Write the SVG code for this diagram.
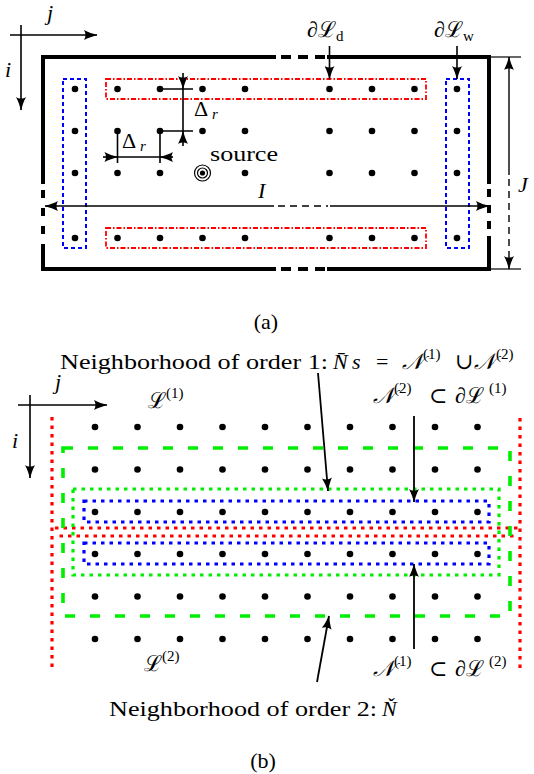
<svg xmlns="http://www.w3.org/2000/svg" width="534" height="774" viewBox="0 0 534 774">
<defs>
<marker id="ah" viewBox="0 0 14 10" markerWidth="14" markerHeight="10" refX="13.5" refY="5" orient="auto" markerUnits="userSpaceOnUse">
<path d="M14,5 C10,6 4,8 0.5,10 C2.5,7 2.5,3 0.5,0 C4,2 10,4 14,5 Z" fill="#000"/>
</marker>
<circle id="d" r="3.3" fill="#000"/>
</defs>
<style>
.t{font-family:"Liberation Serif","DejaVu Serif",serif;font-size:22px;fill:#000}
.it{font-style:italic}
.sup{font-size:15px}
.sub{font-size:15px}
.ln{stroke:#000;stroke-width:1.6;fill:none}
.thick{stroke:#000;stroke-width:4;fill:none;stroke-linecap:square}
.dsh{stroke:#000;stroke-width:4;fill:none}
.bd{stroke:#0000ff;stroke-width:2;fill:none;stroke-dasharray:4 3}
.rdd{stroke:#ff0000;stroke-width:1.8;fill:none;stroke-dasharray:5 2 1.5 2}
.bdot{stroke:#0000ff;stroke-width:3.2;fill:none;stroke-dasharray:3.5 5}
.rdot{stroke:#ff0000;stroke-width:3.2;fill:none;stroke-dasharray:3.5 5}
.gdot{stroke:#00ee00;stroke-width:3.2;fill:none;stroke-dasharray:3.5 5}
.gdash{stroke:#00ee00;stroke-width:3.6;fill:none;stroke-dasharray:10 15}
</style>

<!-- ===== Part (a) ===== -->
<g id="axes-a">
<line class="ln" x1="10" y1="35" x2="97" y2="35" marker-end="url(#ah)"/>
<line class="ln" x1="21" y1="25" x2="21" y2="110" marker-end="url(#ah)"/>
<text class="t it" x="47" y="20" font-size="18">j</text>
<text class="t it" x="5" y="77" font-size="20">i</text>
</g>

<g id="frame">
<line class="thick" x1="43" y1="57" x2="274" y2="57"/>
<path class="dsh" d="M281 57h10M298 57h10M315 57h10"/>
<line class="thick" x1="329" y1="57" x2="489" y2="57"/>
<line class="thick" x1="43" y1="269" x2="274" y2="269"/>
<path class="dsh" d="M281 269h10M298 269h10M315 269h10"/>
<line class="thick" x1="329" y1="269" x2="489" y2="269"/>
<line class="thick" x1="43" y1="57" x2="43" y2="182"/>
<path class="dsh" d="M43 190v8M43 208v8M43 226v8"/>
<line class="thick" x1="43" y1="246" x2="43" y2="269"/>
<line class="thick" x1="489" y1="57" x2="489" y2="182"/>
<path class="dsh" d="M489 189v8M489 205v8M489 221v8"/>
<line class="thick" x1="489" y1="238" x2="489" y2="269"/>
<line stroke="#000" stroke-width="1.2" x1="489" y1="57" x2="521" y2="57"/>
<line stroke="#000" stroke-width="1.2" x1="489" y1="269" x2="521" y2="269"/>
</g>

<g id="boundary-boxes-a">
<rect class="bd" x="63" y="79" width="23" height="169"/>
<rect class="bd" x="446" y="79" width="23" height="169"/>
<rect class="rdd" x="106" y="79" width="320" height="20"/>
<rect class="rdd" x="106" y="228" width="320" height="20"/>
</g>

<g id="grid-a">
<use href="#d" x="75" y="89"/><use href="#d" x="117.5" y="89"/><use href="#d" x="160" y="89"/><use href="#d" x="202.5" y="89"/><use href="#d" x="245" y="89"/><use href="#d" x="329.5" y="89"/><use href="#d" x="372" y="89"/><use href="#d" x="414.5" y="89"/><use href="#d" x="457" y="89"/>
<use href="#d" x="75" y="131"/><use href="#d" x="117.5" y="131"/><use href="#d" x="160" y="131"/><use href="#d" x="202.5" y="131"/><use href="#d" x="245" y="131"/><use href="#d" x="329.5" y="131"/><use href="#d" x="372" y="131"/><use href="#d" x="414.5" y="131"/><use href="#d" x="457" y="131"/>
<use href="#d" x="75" y="173"/><use href="#d" x="117.5" y="173"/><use href="#d" x="160" y="173"/><use href="#d" x="245" y="173"/><use href="#d" x="329.5" y="173"/><use href="#d" x="372" y="173"/><use href="#d" x="414.5" y="173"/><use href="#d" x="457" y="173"/>
<use href="#d" x="75" y="238"/><use href="#d" x="117.5" y="238"/><use href="#d" x="160" y="238"/><use href="#d" x="202.5" y="238"/><use href="#d" x="245" y="238"/><use href="#d" x="329.5" y="238"/><use href="#d" x="372" y="238"/><use href="#d" x="414.5" y="238"/><use href="#d" x="457" y="238"/>
</g>

<g id="source">
<circle cx="202.5" cy="173" r="8" fill="none" stroke="#000" stroke-width="1.2"/>
<circle cx="202.5" cy="173" r="5" fill="none" stroke="#000" stroke-width="1.2"/>
<circle cx="202.5" cy="173" r="2.6" fill="#000"/>
<text class="t" x="210" y="161" textLength="68" lengthAdjust="spacingAndGlyphs">source</text>
</g>

<g id="connectors-a">
<line class="ln" x1="117.5" y1="131" x2="117.5" y2="163"/>
<line class="ln" x1="160" y1="131" x2="160" y2="163"/>
<line class="ln" x1="117.5" y1="157" x2="160" y2="157"/>
<line class="ln" x1="103" y1="157" x2="117.5" y2="157" marker-end="url(#ah)"/>
<line class="ln" x1="173" y1="157" x2="160" y2="157" marker-end="url(#ah)"/>
<line class="ln" x1="160" y1="89" x2="193" y2="89"/>
<line class="ln" x1="160" y1="131" x2="193" y2="131"/>
<line class="ln" x1="183" y1="89" x2="183" y2="131"/>
<line class="ln" x1="183" y1="73" x2="183" y2="89" marker-end="url(#ah)"/>
<line class="ln" x1="183" y1="146" x2="183" y2="131" marker-end="url(#ah)"/>
<line class="ln" x1="329.5" y1="46" x2="329.5" y2="79" marker-end="url(#ah)"/>
<line class="ln" x1="457" y1="46" x2="457" y2="79" marker-end="url(#ah)"/>
<line class="ln" x1="274" y1="206" x2="45" y2="206" marker-end="url(#ah)"/>
<line class="ln" x1="278" y1="206" x2="328" y2="206" stroke-dasharray="7 5"/>
<line class="ln" x1="330" y1="206" x2="489" y2="206" marker-end="url(#ah)"/>
<line stroke="#000" stroke-width="1.4" x1="509" y1="175" x2="509" y2="57" marker-end="url(#ah)"/>
<line stroke="#000" stroke-width="1.4" x1="509" y1="179" x2="509" y2="269" stroke-dasharray="7 5" marker-end="url(#ah)"/>
</g>

<g id="labels-a">
<text class="t" x="122" y="148" font-size="24">Δ<tspan class="it sub" x="140" y="151">r</tspan></text>
<text class="t" x="194" y="116" font-size="24">Δ<tspan class="it sub" x="212" y="119">r</tspan></text>
<text class="t" x="307" y="37">∂ℒ<tspan class="sub" dy="4">d</tspan></text>
<text class="t" x="434" y="37">∂ℒ<tspan class="sub" dy="4">w</tspan></text>
<text class="t it" x="258" y="198" font-size="21">I</text>
<text class="t it" x="518" y="192" font-size="21">J</text>
<text class="t" x="266" y="329" font-size="19" text-anchor="middle">(a)</text>
</g>

<!-- ===== Part (b) ===== -->
<g id="axes-b">
<line class="ln" x1="18" y1="405" x2="107" y2="405" marker-end="url(#ah)"/>
<line class="ln" x1="30" y1="395" x2="30" y2="478" marker-end="url(#ah)"/>
<text class="t it" x="55" y="389" font-size="20">j</text>
<text class="t it" x="12" y="448" font-size="20">i</text>
</g>

<g id="partition-b">
<line class="rdot" x1="52" y1="417" x2="52" y2="670"/>
<line class="rdot" x1="520" y1="418" x2="520" y2="668"/>
<line class="rdot" x1="55" y1="528" x2="518" y2="528"/>
<line class="rdot" x1="55" y1="536" x2="518" y2="536" stroke-dashoffset="4"/>
</g>

<g id="neighborhood2">
<rect class="gdash" x="63" y="448" width="447" height="168"/>
</g>
<g id="neighborhood1">
<rect class="gdot" x="73" y="489" width="426" height="86"/>
</g>
<g id="N2-box">
<rect class="bdot" x="84" y="501" width="405" height="21"/>
</g>
<g id="N1-box">
<rect class="bdot" x="84" y="543" width="405" height="21"/>
</g>

<g id="grid-b">
<use href="#d" x="95" y="427"/><use href="#d" x="137.5" y="427"/><use href="#d" x="180" y="427"/><use href="#d" x="222.5" y="427"/><use href="#d" x="265" y="427"/><use href="#d" x="307.5" y="427"/><use href="#d" x="350" y="427"/><use href="#d" x="392.5" y="427"/><use href="#d" x="435" y="427"/><use href="#d" x="477.5" y="427"/>
<use href="#d" x="95" y="469.5"/><use href="#d" x="137.5" y="469.5"/><use href="#d" x="180" y="469.5"/><use href="#d" x="222.5" y="469.5"/><use href="#d" x="265" y="469.5"/><use href="#d" x="307.5" y="469.5"/><use href="#d" x="350" y="469.5"/><use href="#d" x="392.5" y="469.5"/><use href="#d" x="435" y="469.5"/><use href="#d" x="477.5" y="469.5"/>
<use href="#d" x="95" y="512"/><use href="#d" x="137.5" y="512"/><use href="#d" x="180" y="512"/><use href="#d" x="222.5" y="512"/><use href="#d" x="265" y="512"/><use href="#d" x="307.5" y="512"/><use href="#d" x="350" y="512"/><use href="#d" x="392.5" y="512"/><use href="#d" x="435" y="512"/><use href="#d" x="477.5" y="512"/>
<use href="#d" x="95" y="554"/><use href="#d" x="137.5" y="554"/><use href="#d" x="180" y="554"/><use href="#d" x="222.5" y="554"/><use href="#d" x="265" y="554"/><use href="#d" x="307.5" y="554"/><use href="#d" x="350" y="554"/><use href="#d" x="392.5" y="554"/><use href="#d" x="435" y="554"/><use href="#d" x="477.5" y="554"/>
<use href="#d" x="95" y="596.5"/><use href="#d" x="137.5" y="596.5"/><use href="#d" x="180" y="596.5"/><use href="#d" x="222.5" y="596.5"/><use href="#d" x="265" y="596.5"/><use href="#d" x="307.5" y="596.5"/><use href="#d" x="350" y="596.5"/><use href="#d" x="392.5" y="596.5"/><use href="#d" x="435" y="596.5"/><use href="#d" x="477.5" y="596.5"/>
<use href="#d" x="95" y="639"/><use href="#d" x="137.5" y="639"/><use href="#d" x="180" y="639"/><use href="#d" x="222.5" y="639"/><use href="#d" x="265" y="639"/><use href="#d" x="307.5" y="639"/><use href="#d" x="350" y="639"/><use href="#d" x="392.5" y="639"/><use href="#d" x="435" y="639"/><use href="#d" x="477.5" y="639"/>
</g>

<g id="connectors-b">
<line stroke="#000" stroke-width="1.8" x1="318" y1="373" x2="328" y2="491" marker-end="url(#ah)"/>
<line stroke="#000" stroke-width="1.8" x1="414" y1="416" x2="414" y2="502" marker-end="url(#ah)"/>
<line stroke="#000" stroke-width="1.8" x1="414" y1="649" x2="414" y2="564" marker-end="url(#ah)"/>
<line stroke="#000" stroke-width="1.8" x1="317" y1="682" x2="329" y2="616" marker-end="url(#ah)"/>
</g>

<g id="labels-b">
<text class="t" x="60" y="369" textLength="268" lengthAdjust="spacingAndGlyphs">Neighborhood of order 1:</text>
<text class="t it" x="333" y="369">N̄</text>
<text class="t it" x="352" y="369">s</text>
<text class="t" x="376" y="369">=</text>
<text class="t it" x="402" y="369">𝒩</text>
<text class="t sup" x="423" y="359">(1)</text>
<text class="t" x="455" y="369">∪</text>
<text class="t it" x="474" y="369">𝒩</text>
<text class="t sup" x="496" y="359">(2)</text>

<text class="t" x="148" y="408">ℒ</text>
<text class="t sup" x="166" y="398">(1)</text>

<text class="t it" x="373" y="403">𝒩</text>
<text class="t sup" x="394" y="393">(2)</text>
<text class="t" x="429" y="403">⊂</text>
<text class="t" x="455" y="403">∂ℒ</text>
<text class="t sup" x="489" y="393">(1)</text>

<text class="t" x="144" y="671">ℒ</text>
<text class="t sup" x="162" y="661">(2)</text>

<text class="t it" x="373" y="676">𝒩</text>
<text class="t sup" x="394" y="666">(1)</text>
<text class="t" x="429" y="676">⊂</text>
<text class="t" x="455" y="676">∂ℒ</text>
<text class="t sup" x="489" y="666">(2)</text>

<text class="t" x="109" y="716" textLength="268" lengthAdjust="spacingAndGlyphs">Neighborhood of order 2:</text>
<text class="t it" x="382" y="716">Ň</text>
<text class="t" x="263" y="768" font-size="19" text-anchor="middle">(b)</text>
</g>
</svg>
